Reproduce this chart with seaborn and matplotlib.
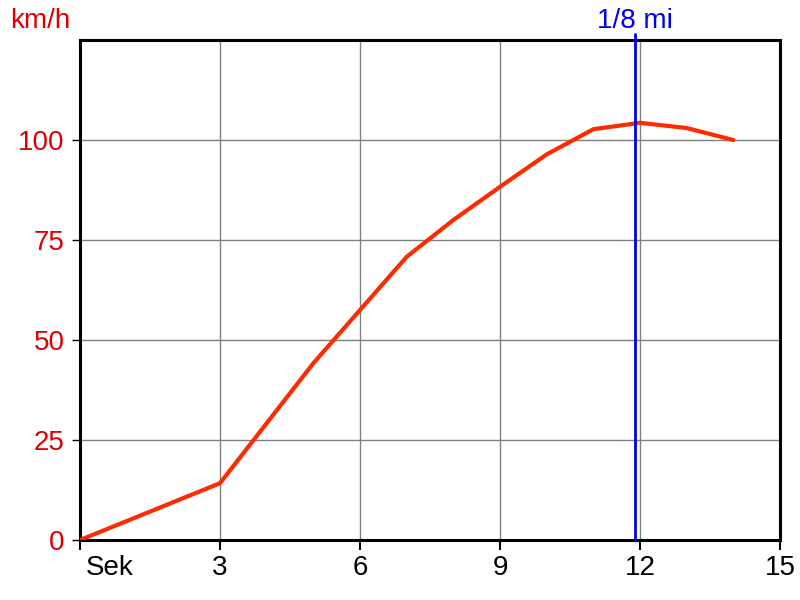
import numpy as np
import pandas as pd
import seaborn as sns
import matplotlib
matplotlib.use('Agg')
import matplotlib.pyplot as plt
import matplotlib.transforms as mtransforms

# speed over time
seconds = [0, 3, 5, 6, 7, 8, 9, 10, 11, 12, 13, 14]
speed_kmh = [0, 14.2, 44.2, 57.5, 70.8, 80, 88.3, 96.4, 102.7, 104.3, 103, 100]
eighth_mile_sec = 11.9

x_ticks = [0, 3, 6, 9, 12, 15]
x_labels = ['Sek', '3', '6', '9', '12', '15']
y_ticks = [0, 25, 50, 75, 100]

sns.set_style('white')
plt.rcParams['font.family'] = ['Liberation Sans', 'DejaVu Sans']

fig = plt.figure(figsize=(8, 6), dpi=100)
ax = fig.add_axes([0.1, 0.1, 0.875, 0.8333])

df = pd.DataFrame({'t': seconds, 'v': speed_kmh})
sns.lineplot(data=df, x='t', y='v', ax=ax, color='#ff2a00', linewidth=3, zorder=3)

ax.axvline(eighth_mile_sec, ymin=0, ymax=1.012, color='#0000ee', linewidth=2, zorder=4, clip_on=False)
ax.text(eighth_mile_sec, 128, '1/8 mi', color='#0000ee', fontsize=20, ha='center', va='baseline')
ax.text(-0.2, 128, 'km/h', color='#dd0000', fontsize=20, ha='right', va='baseline')

ax.set_xlim(0, 15)
ax.set_ylim(0, 125)
ax.set_xticks(x_ticks)
ax.set_xticklabels(x_labels)
ax.set_yticks(y_ticks)
ax.grid(True, color='#808080', linewidth=1)
ax.set_xlabel('')
ax.set_ylabel('')

for s in ax.spines.values():
    s.set_color('black')
    s.set_linewidth(2.2)

ax.tick_params(axis='x', colors='black', labelcolor='black', labelsize=20, length=7, width=1.5,
               direction='out', bottom=True, pad=4)
ax.tick_params(axis='y', colors='black', labelcolor='#dd0000', labelsize=20, length=6, width=1,
               direction='out', left=True, pad=5)
sek = ax.get_xticklabels()[0]
sek.set_horizontalalignment('left')
sek.set_transform(sek.get_transform() + mtransforms.ScaledTranslation(6 / 100, 0, fig.dpi_scale_trans))

fig.savefig('out.png', dpi=100)
